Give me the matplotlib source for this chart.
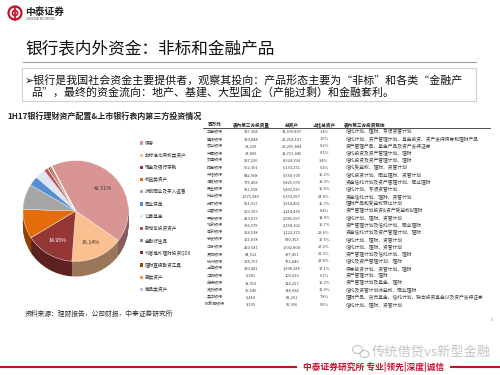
import matplotlib
matplotlib.use('Agg')
import matplotlib.pyplot as plt
import matplotlib.colors as mcolors
from matplotlib.patches import Rectangle, Circle, Ellipse
import numpy as np

plt.rcParams['font.family'] = ['Noto Sans CJK SC', 'DejaVu Sans']

# =======================
# Dados — pizza 1H17
# =======================
asset_names = ['债券', '非标准化债权类资产', '现金及银行存款', '权益类资产',
               '拆放同业及买入返售', '同业存单', '公募基金', '新增可投资资产',
               '金融衍生品', '代客境外理财投资QDII', '理财直接融资工具',
               '另类资产', '商品类资产']
asset_shares = [42.51, 16.14, 14.95, 9.41, 8.11, 3.00, 3.20, 1.20,
                0.20, 0.50, 0.50, 0.20, 0.08]
asset_colors = ['#D99594', '#FAC090', '#953735', '#E46C0A', '#A6A6A6',
                '#558ED5', '#DCE6F2', '#C0504D', '#8C8C8C', '#8B2E2C',
                '#984807', '#F79646', '#B9CDE5']

# =======================
# Dados — tabela
# =======================
table_header = ['百万元', '表内第三方投资量', '总资产', '占比总资产', '表内第三方投资载体']
banks = ['工商银行', '建设银行', '农业银行', '中国银行', '交通银行', '招商银行',
         '中信银行', '浦发银行', '民生银行', '兴业银行', '光大银行', '华夏银行',
         '平安银行', '北京银行', '南京银行', '宁波银行', '江苏银行', '贵阳银行',
         '杭州银行', '上海银行', '江阴银行', '无锡银行', '常熟银行', '吴江银行',
         '张家港银行']
third_party = ['337,368', '310,848', '38,239', '28,809', '297,226', '562,301',
               '842,968', '776,458', '912,558', '1,571,989', '621,917', '203,359',
               '413,037', '366,979', '264,538', '161,038', '460,541', '84,512',
               '178,767', '290,441', '6,381', '18,912', '16,546', '6,410', '9,139']
total_assets = ['34,699,807', '21,254,107', '20,255,884', '18,721,446', '8,624,394',
                '6,133,251', '5,560,909', '5,825,076', '5,492,939', '6,333,957',
                '3,964,461', '2,414,469', '2,945,567', '2,194,102', '1,122,272',
                '920,353', '1,692,804', '397,451', '752,440', '1,698,285',
                '103,633', '124,227', '138,664', '82,261', '95,956']
share_of_assets = ['1.4%', '1.5%', '0.2%', '0.1%', '3.4%', '9.2%', '15.2%', '13.3%',
                   '16.6%', '24.8%', '15.7%', '8.4%', '14.0%', '16.7%', '23.6%',
                   '17.5%', '27.2%', '21.3%', '23.8%', '17.1%', '6.1%', '15.2%',
                   '11.9%', '7.8%', '9.5%']
vehicles = ['信托计划、理财、专项资管计划',
            '信托计划、资产管理计划、基金投资、资产支持债券和理财产品',
            '资产管理产品、基金产品及资产支持证券',
            '信托投资及资产管理计划、理财',
            '信托投资及资产管理计划、理财',
            '信托受益权、理财、资管计划',
            '信托投资计划、同业理财、资管计划',
            '资金信托计划及资产管理计划、同业理财',
            '信托计划、专项资管计划',
            '资金信托计划、理财、资管计划',
            '理财产品和受益权转让计划',
            '资产管理计划投资&资产受益权&理财',
            '信托计划、理财、资管计划',
            '资产管理计划及信托计划、同业理财',
            '资金信托计划及资产管理计划、理财',
            '信托计划、理财、资管计划',
            '信托计划、理财、资管计划',
            '资产管理计划及信托计划、理财',
            '信托及资产管理计划、理财',
            '债券投资计划、资管计划、理财',
            '资产管理计划、理财',
            '资产管理计划及基金、理财',
            '信托及资管计划收益权、同业理财',
            '理财产品、货币基金、信托计划、联合投资基金以及资产支持证券',
            '信托计划、理财、资管计划']

W, H = 500, 375
RED = '#C8102E'

fig = plt.figure(figsize=(5, 3.75), dpi=100)
ax = fig.add_axes([0, 0, 1, 1])
ax.set_xlim(0, W)
ax.set_ylim(H, 0)
ax.axis('off')

# =======================
# Cabeçalho
# =======================
ax.add_patch(Circle((15, 13), 6.5, fill=False, edgecolor=RED, lw=1.6))
ax.add_patch(Circle((15, 13), 2.6, fill=False, edgecolor=RED, lw=1.2))
ax.plot([15, 15], [6.5, 19.5], color=RED, lw=1.2)
ax.text(25.5, 12, '中泰证券', fontsize=7, fontweight='bold', color='#222222',
        va='center', ha='left')
ax.text(25.5, 19.5, 'ZHONGTAI SECURITIES', fontsize=1.8, color='#444444',
        va='center', ha='left', family='DejaVu Sans')

ax.text(25, 48.5, '银行表内外资金：非标和金融产品', fontsize=12, color='#111111',
        va='center', ha='left')
ax.plot([23, 476], [62, 62], color='#A0A0A0', lw=0.8)

ax.add_patch(Rectangle((21.5, 67.5), 454.5, 33.5, fill=False,
                       edgecolor='#CFCFCF', lw=0.8))
ax.text(24.5, 80.5, '➢银行是我国社会资金主要提供者，观察其投向：产品形态主要为“非标”和各类“金融产',
        fontsize=7.9, color='#111111', va='center', ha='left')
ax.text(31.5, 92.5, '品”，最终的资金流向：地产、基建、大型国企（产能过剩）和金融套利。',
        fontsize=7.9, color='#111111', va='center', ha='left')

ax.text(7, 116.5, '1H17银行理财资产配置&上市银行表内第三方投资情况', fontsize=5.8,
        fontweight='bold', color='#222222', va='center', ha='left')

# =======================
# Pizza 3D (pilha de pizzas escurecidas)
# =======================
pax = fig.add_axes([22.7 / W, 1 - 277 / H, 106 / W, 117 / H])
depth = 0.3
side_colors = [tuple(np.array(mcolors.to_rgb(c)) * 0.62) for c in asset_colors]
for d in np.linspace(depth, 0.01, 18):
    pax.pie(asset_shares, colors=side_colors, startangle=117, counterclock=False,
            center=(0, -d), radius=1, wedgeprops=dict(linewidth=0))


def rotulo(pct):
    return f'{pct:.2f}%' if pct > 10 else ''


wedges, _, autotexts = pax.pie(asset_shares, colors=asset_colors, startangle=117,
                               counterclock=False, autopct=rotulo, pctdistance=0.68,
                               wedgeprops=dict(edgecolor='white', linewidth=0.3),
                               textprops=dict(fontsize=3.8))
for t, c in zip(autotexts[:3], ['#333333', '#333333', 'white']):
    t.set_color(c)
pax.set_aspect('auto')
pax.set_xlim(-1.005, 1.005)
pax.set_ylim(-1 - depth - 0.01, 1.01)
pax.axis('off')

# legenda
for i, (nome, cor) in enumerate(zip(asset_names, asset_colors)):
    y = 143 + i * 12.2
    ax.add_patch(Rectangle((139.8, y - 1.6), 3.2, 3.2, facecolor=cor, edgecolor='none'))
    ax.text(145, y, nome, fontsize=3.3, color='#333333', va='center', ha='left')

# =======================
# Tabela
# =======================
col_x = [215, 251, 292, 324, 343.5]
col_ha = ['center', 'center', 'center', 'center', 'left']
for x, txt, ha in zip(col_x, table_header, col_ha):
    ax.text(x, 124.3, txt, fontsize=3.3, fontweight='bold', color='#222222',
            va='center', ha=ha)
ax.plot([203, 490], [127.8, 127.8], color='#333333', lw=0.6)

for i in range(len(banks)):
    y = 131.8 + i * 7.2
    row = [banks[i], third_party[i], total_assets[i], share_of_assets[i], vehicles[i]]
    for j, (x, txt, ha) in enumerate(zip(col_x, row, col_ha)):
        ax.text(x + (2.5 if j == 4 else 0), y, txt,
                fontsize=3.4 if j == 4 else 2.9, color='#404040',
                va='center', ha=ha)

# =======================
# Rodapé
# =======================
ax.text(25, 313.5, '资料来源：理财报告，公司财报，中泰证券研究所', fontsize=4.9,
        color='#333333', va='center', ha='left')
ax.text(493, 320, '11', fontsize=2.5, color='#999999', va='center', ha='center')

ax.add_patch(Ellipse((357.5, 349.5), 10, 8, fill=False, edgecolor='#C4C4C4', lw=0.8))
ax.add_patch(Ellipse((364.5, 354), 9, 7, fill=False, edgecolor='#C4C4C4', lw=0.8))
ax.text(372, 352, '传统借贷vs新型金融', fontsize=9.5, color='#C4C4C4',
        va='center', ha='left')

ax.plot([0, 297], [367, 367], color=RED, lw=1.5, solid_capstyle='butt')
ax.plot([450, 500], [367, 367], color=RED, lw=1.5, solid_capstyle='butt')
ax.text(373.5, 366.5, '中泰证券研究所 专业|领先|深度|诚信', fontsize=6.3,
        fontweight='bold', color=RED, va='center', ha='center')

fig.savefig('out.png', dpi=100)
